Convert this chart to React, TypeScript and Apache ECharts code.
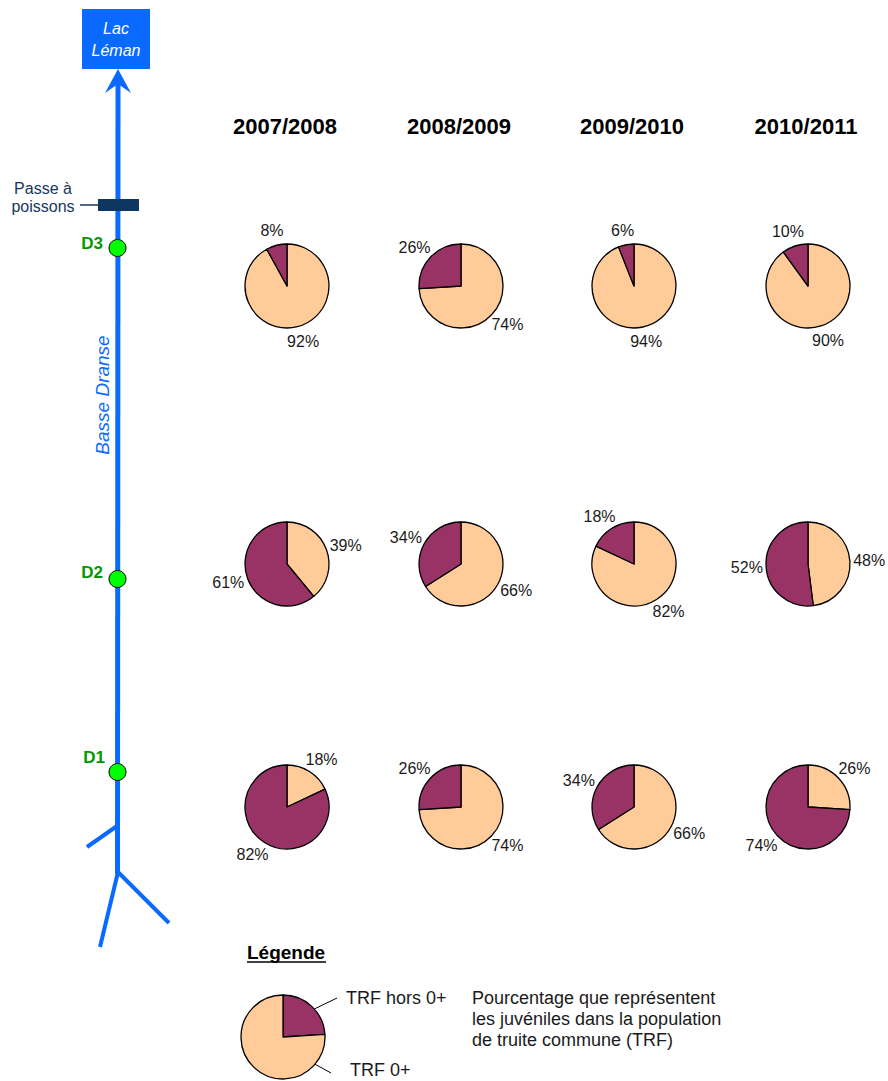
import React, { useEffect, useRef } from "react";
import * as echarts from "echarts";

// ---- Data ----
const years = ["2007/2008", "2008/2009", "2009/2010", "2010/2011"];
const stations = ["D3", "D2", "D1"];
// % TRF 0+ (juvéniles) per station, per year
const trf0D3 = [92, 74, 94, 90];
const trfHorsD3 = [8, 26, 6, 10];
const trf0D2 = [39, 66, 82, 48];
const trfHorsD2 = [61, 34, 18, 52];
const trf0D1 = [18, 74, 66, 26];
const trfHorsD1 = [82, 26, 34, 74];
const legendTrf0 = 76;
const legendTrfHors = 24;
const seriesNames = ["TRF 0+", "TRF hors 0+"];

// ---- Layout / style ----
const W = 888;
const H = 1081;
const R = 42;
const colX = [287, 461, 634, 808];
const rowY = [286, 564, 807];
const stationMarkerY = [248, 579, 772];
const PEACH = "#FFCC99";
const PURPLE = "#993366";
const BLUE = "#0A6AFF";
const FONT = 'Arial, "Liberation Sans", sans-serif';

const zeroes = [trf0D3, trf0D2, trf0D1];
const hors = [trfHorsD3, trfHorsD2, trfHorsD1];

function makeLabelLayout(cx: number, cy: number, vals: number[]) {
  return (params: any) => {
    const total = vals[0] + vals[1];
    const i = params.dataIndex;
    const start = i === 0 ? 0 : vals[0] / total;
    const mid = (start + vals[i] / total / 2) * Math.PI * 2;
    const dx = Math.sin(mid);
    const dy = -Math.cos(mid);
    const w = params.labelRect.width;
    const h = params.labelRect.height;
    const d = R + 3 + 4 * Math.abs(dy);
    return {
      x: cx + dx * d + (dx * w) / 2,
      y: cy + dy * d + (dy * h) / 2,
      align: "center",
      verticalAlign: "middle",
    };
  };
}

function text(x: number, y: number, t: string, font: string, fill: string, align = "center", extra: any = {}) {
  return {
    type: "text",
    x,
    y,
    silent: true,
    ...extra,
    style: {
      text: t,
      font,
      fill,
      align,
      textAlign: align,
      verticalAlign: "middle",
      textVerticalAlign: "middle",
    },
  };
}

export default function App() {
  const ref = useRef<HTMLDivElement>(null);
  useEffect(() => {
    document.body.style.margin = "0";
    if (!ref.current) return;
    const chart = echarts.init(ref.current, null, { renderer: "svg" });

    const series: any[] = [];
    stations.forEach((_, r) => {
      years.forEach((_, c) => {
        const vals = [zeroes[r][c], hors[r][c]];
        series.push({
          type: "pie",
          center: [colX[c], rowY[r]],
          radius: R,
          startAngle: 90,
          clockwise: true,
          silent: true,
          avoidLabelOverlap: false,
          itemStyle: { borderColor: "#000", borderWidth: 1.3 },
          label: {
            show: true,
            position: "outside",
            formatter: "{c}%",
            fontSize: 16,
            fontFamily: FONT,
            color: "#1a1a1a",
          },
          labelLine: { show: false },
          labelLayout: makeLabelLayout(colX[c], rowY[r], vals),
          data: [
            { name: seriesNames[0], value: vals[0], itemStyle: { color: PEACH } },
            { name: seriesNames[1], value: vals[1], itemStyle: { color: PURPLE } },
          ],
        });
      });
    });
    // legend pie (TRF hors 0+ drawn first, clockwise from the top)
    series.push({
      type: "pie",
      center: [283, 1037],
      radius: R,
      startAngle: 90,
      clockwise: true,
      silent: true,
      itemStyle: { borderColor: "#000", borderWidth: 1.3 },
      label: { show: false },
      labelLine: { show: false },
      data: [
        { name: seriesNames[1], value: legendTrfHors, itemStyle: { color: PURPLE } },
        { name: seriesNames[0], value: legendTrf0, itemStyle: { color: PEACH } },
      ],
    });

    const graphic: any[] = [
      // river
      { type: "line", silent: true, shape: { x1: 118, y1: 82, x2: 117.5, y2: 874 }, style: { stroke: BLUE, lineWidth: 5 } },
      { type: "polygon", silent: true, shape: { points: [[118, 69], [131, 93], [118, 84], [105, 93]] }, style: { fill: BLUE } },
      { type: "line", silent: true, shape: { x1: 117, y1: 826, x2: 87, y2: 847 }, style: { stroke: BLUE, lineWidth: 4 } },
      { type: "polyline", silent: true, shape: { points: [[100, 947], [118, 872], [169, 923]] }, style: { stroke: BLUE, lineWidth: 4, fill: null } },
      // Lac Léman
      { type: "rect", silent: true, shape: { x: 82, y: 9, width: 68, height: 60 }, style: { fill: BLUE } },
      text(116, 28, "Lac", `italic 16px ${FONT}`, "#fff"),
      text(116, 50, "Léman", `italic 16px ${FONT}`, "#fff"),
      // Passe à poissons
      { type: "line", silent: true, shape: { x1: 80, y1: 205, x2: 98, y2: 205 }, style: { stroke: "#17375E", lineWidth: 1.5 } },
      { type: "rect", silent: true, shape: { x: 98, y: 199, width: 41, height: 12 }, style: { fill: "#0D3661" } },
      text(43, 188, "Passe à", `16px ${FONT}`, "#17375E"),
      text(43, 206, "poissons", `16px ${FONT}`, "#17375E"),
      // Basse Dranse
      text(102, 395, "Basse Dranse", `italic 19px ${FONT}`, BLUE, "center", { rotation: Math.PI / 2 }),
      // Légende
      text(247, 952, "Légende", `bold 19px ${FONT}`, "#000", "left"),
      { type: "line", silent: true, shape: { x1: 247, y1: 962, x2: 326, y2: 962 }, style: { stroke: "#000", lineWidth: 1.5 } },
      { type: "line", silent: true, shape: { x1: 306, y1: 1013, x2: 337, y2: 998 }, style: { stroke: "#000", lineWidth: 1 } },
      { type: "line", silent: true, shape: { x1: 311, y1: 1062, x2: 331, y2: 1073 }, style: { stroke: "#000", lineWidth: 1 } },
      text(346, 998, "TRF hors 0+", `18px ${FONT}`, "#1a1a1a", "left"),
      text(350, 1070, "TRF 0+", `18px ${FONT}`, "#1a1a1a", "left"),
      text(472, 998, "Pourcentage que représentent", `18px ${FONT}`, "#1a1a1a", "left"),
      text(472, 1019, "les juvéniles dans la population", `18px ${FONT}`, "#1a1a1a", "left"),
      text(472, 1040, "de truite commune (TRF)", `18px ${FONT}`, "#1a1a1a", "left"),
    ];
    // station markers
    const stationLabelPos = [
      [92, 243],
      [92, 572],
      [94, 757],
    ];
    stations.forEach((s, i) => {
      graphic.push({
        type: "circle",
        silent: true,
        shape: { cx: 117.5, cy: stationMarkerY[i], r: 8.5 },
        style: { fill: "#00FF00", stroke: "#000", lineWidth: 1 },
      });
      graphic.push(text(stationLabelPos[i][0], stationLabelPos[i][1], s, `bold 17px ${FONT}`, "#009A00"));
    });
    // year titles
    years.forEach((y, c) => {
      graphic.push(text(colX[c] - 2, 126, y, `bold 22px ${FONT}`, "#000"));
    });

    chart.setOption({
      animation: false,
      backgroundColor: "#fff",
      series,
      graphic,
    });
    return () => chart.dispose();
  }, []);
  return <div ref={ref} style={{ width: W, height: H }} />;
}
